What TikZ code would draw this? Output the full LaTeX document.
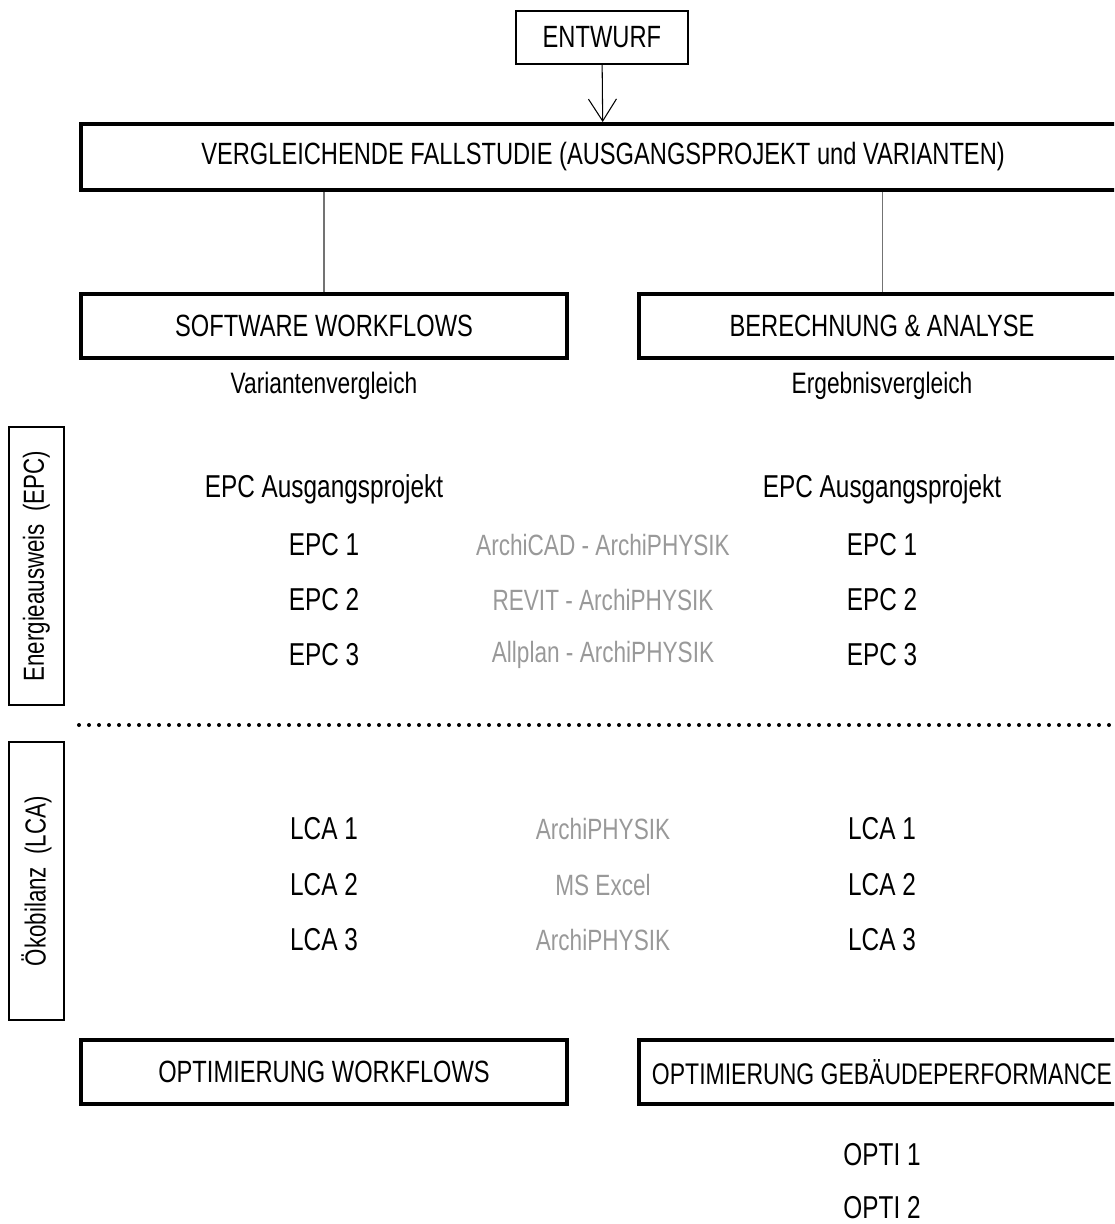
\documentclass[tikz,border=0pt]{standalone}
\usepackage{fontspec}
\setmainfont[FakeStretch=0.77]{Liberation Sans}
\usepackage{xcolor}
\usepackage{tikz}
\usetikzlibrary{arrows.meta}
\usetikzlibrary{shapes,fit,calc,positioning}

\definecolor{toolgray}{gray}{0.6}
\definecolor{linkgray}{gray}{0.45}

\tikzset{
  item/.style={on grid, inner sep=0pt, font=\fontsize{18pt}{21pt}\selectfont},
  small/.style={item, font=\fontsize{16.8pt}{20pt}\selectfont},
  tool/.style={item, text=toolgray, font=\fontsize{16.7pt}{20pt}\selectfont},
  box/.style={draw, line width=2.3pt, inner sep=0pt, minimum width=9.72cm, minimum height=1.28cm, font=\fontsize{17.5pt}{21pt}\selectfont},
  sidebox/.style={draw, line width=1pt, inner sep=0pt, rotate=90, minimum width=5.56cm, minimum height=1.1cm, font=\fontsize{16.5pt}{20pt}\selectfont}
}

\begin{document}
\begin{tikzpicture}

\useasboundingbox (0,0) rectangle (22.28,-24.48);
\clip (0,0) rectangle (22.28,-24.48);

\coordinate(O1) at (0,0);

% top: design and case study
\node[box, below right=0.2cm and 10.3cm of O1, line width=1pt, minimum width=3.44cm, minimum height=1.06cm](entwurf) {ENTWURF};
\node[box, below right=2.44cm and 1.58cm of O1, minimum width=20.88cm, minimum height=1.32cm](fall) {VERGLEICHENDE FALLSTUDIE (AUSGANGSPROJEKT und VARIANTEN)};

\node[box, below right=5.84cm and 1.58cm of O1](sw) {SOFTWARE WORKFLOWS};
\node[box, below right=5.84cm and 12.74cm of O1](ba) {BERECHNUNG \& ANALYSE};
\node[small, below=1.2cm of sw](vv) {Variantenvergleich};
\node[small, below=1.2cm of ba](ev) {Ergebnisvergleich};

% energy certificate
\node[sidebox, below right=14.12cm and 0.16cm of O1](epcside) {Energieausweis\ \ (EPC)};
\node[item, below=3.26cm of sw](epca) {EPC Ausgangsprojekt};
\node[item, below=1.12cm of epca](epc1) {EPC 1};
\node[item, below=1.1cm of epc1](epc2) {EPC 2};
\node[item, below=1.1cm of epc2](epc3) {EPC 3};
\node[item, right=11.16cm of epca](repca) {EPC Ausgangsprojekt};
\node[item, right=11.16cm of epc1](repc1) {EPC 1};
\node[item, right=11.16cm of epc2](repc2) {EPC 2};
\node[item, right=11.16cm of epc3](repc3) {EPC 3};
\node[tool, right=5.58cm of epc1](t1) {ArchiCAD - ArchiPHYSIK};
\node[tool, right=5.58cm of epc2](t2) {REVIT - ArchiPHYSIK};
\node[tool, right=5.58cm of epc3](t3) {Allplan - ArchiPHYSIK};

\coordinate[below right=14.5cm and 1.58cm of O1](dl);
\coordinate[right=21.2cm of dl](dr);

% life cycle assessment
\node[sidebox, below right=20.42cm and 0.16cm of O1](lcaside) {Ökobilanz\ \ (LCA)};
\node[item, below=3.48cm of epc3](lca1) {LCA 1};
\node[item, below=1.12cm of lca1](lca2) {LCA 2};
\node[item, below=1.1cm of lca2](lca3) {LCA 3};
\node[item, right=11.16cm of lca1](rlca1) {LCA 1};
\node[item, right=11.16cm of lca2](rlca2) {LCA 2};
\node[item, right=11.16cm of lca3](rlca3) {LCA 3};
\node[tool, right=5.58cm of lca1](l1) {ArchiPHYSIK};
\node[tool, right=5.58cm of lca2](l2) {MS Excel};
\node[tool, right=5.58cm of lca3](l3) {ArchiPHYSIK};

% optimisation
\node[box, below right=20.76cm and 1.58cm of O1](ow) {OPTIMIERUNG WORKFLOWS};
\node[box, below right=20.76cm and 12.74cm of O1, font=\fontsize{17pt}{21pt}\selectfont](og) {OPTIMIERUNG GEBÄUDEPERFORMANCE};
\node[item, below=1.66cm of og](opti1) {OPTI 1};
\node[item, below=1.06cm of opti1](opti2) {OPTI 2};

\draw[-{Straight Barb[length=0.44cm, width=0.56cm]}, line width=0.6pt] (entwurf) -- (fall);
\draw[linkgray, line width=0.6pt] (sw.north) -- (sw.north |- fall.south);
\draw[linkgray, line width=0.6pt] (ba.north) -- (ba.north |- fall.south);
\draw[line width=0.08cm, line cap=round, dash pattern=on 0pt off 0.2cm] (dl) -- (dr);
\end{tikzpicture}
\end{document}
